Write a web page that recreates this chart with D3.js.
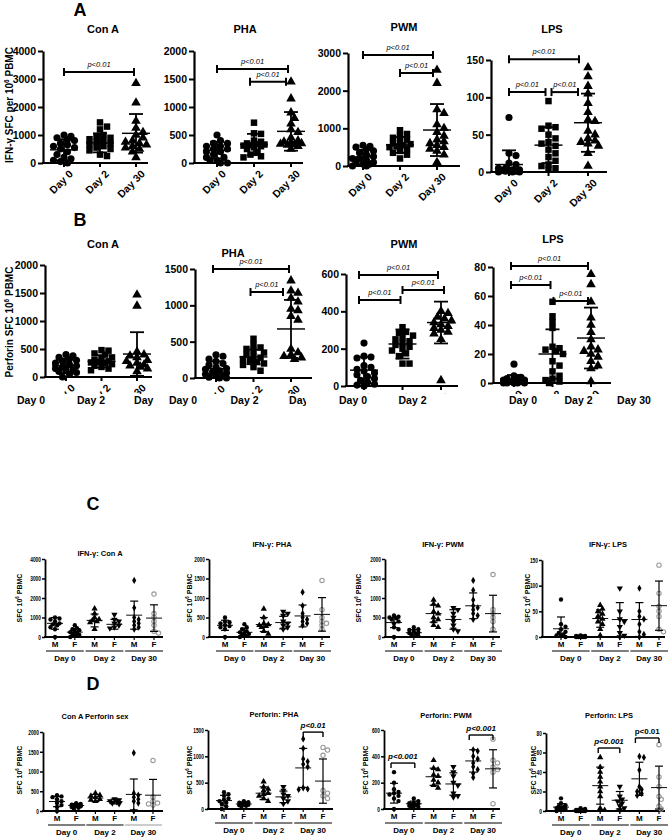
<!DOCTYPE html>
<html lang="en">
<head>
<meta charset="utf-8">
<title>SFC per stimulus</title>
<script src="https://cdn.jsdelivr.net/npm/d3@7"></script>
<style>
  body { margin: 0; background: #fff; }
  svg { display: block; }
  text { font-family: "Liberation Sans", Arial, sans-serif; fill: #000; }
  .narrow text { font-family: "Liberation Sans Narrow", "Liberation Sans", Arial, sans-serif; }
</style>
</head>
<body>
<script>
var w = 672, h = 838;

var days = ["Day 0", "Day 2", "Day 30"];
var sexes = ["M", "F", "M", "F", "M", "F"];

// ---- A: IFN-gamma SFC per 10^6 PBMC, by day
var ifnConA = [
  [1000, 950, 900, 850, 800, 700, 650, 600, 550, 500, 400, 300, 200, 150, 100, 50, 0],
  [1450, 1300, 1200, 1000, 950, 900, 850, 800, 750, 700, 650, 600, 550, 500, 450, 300, 250],
  [2850, 2150, 1500, 1250, 1100, 1000, 900, 800, 750, 700, 650, 600, 550, 500, 400, 200]
];
var ifnConAMean = [470, 720, 1060], ifnConASd = [380, 340, 690];

var ifnPHA = [
  [500, 400, 350, 350, 300, 300, 250, 250, 200, 200, 150, 100, 100, 50, 50, 0, 0],
  [720, 530, 520, 400, 380, 350, 340, 330, 320, 310, 300, 280, 250, 200, 150, 120, 100],
  [1450, 1150, 900, 800, 700, 600, 550, 450, 400, 380, 360, 350, 340, 330, 320, 300, 250]
];
var ifnPHAMean = [230, 330, 565], ifnPHASd = [150, 190, 345];

var ifnPWM = [
  [550, 520, 500, 450, 400, 350, 300, 250, 200, 200, 150, 100, 100, 50, 50, 0, 0],
  [950, 850, 800, 750, 700, 650, 600, 580, 550, 520, 500, 450, 400, 350, 300, 200],
  [2550, 2200, 1500, 1400, 1100, 1000, 900, 800, 700, 650, 600, 550, 500, 450, 400, 300, 100]
];
var ifnPWMMean = [240, 560, 955], ifnPWMSd = [190, 210, 690];

var ifnLPS = [
  [73, 25, 22, 12, 10, 5, 5, 3, 3, 2, 2, 1, 1, 0, 0, 0],
  [95, 62, 60, 58, 50, 45, 40, 38, 35, 30, 25, 20, 15, 10, 8, 5, 3],
  [140, 128, 115, 105, 92, 80, 70, 68, 55, 50, 45, 42, 40, 38, 35, 25, 8]
];
var ifnLPSMean = [10, 36, 66], ifnLPSSd = [19, 24, 39];

// ---- B: Perforin SFC per 10^6 PBMC, by day
var perConA = [
  [400, 380, 350, 320, 300, 280, 250, 220, 200, 180, 150, 130, 120, 100, 80, 50, 0],
  [480, 470, 420, 400, 350, 320, 300, 280, 270, 260, 250, 230, 200, 180, 150, 120],
  [1470, 1270, 450, 400, 380, 350, 300, 280, 250, 220, 200, 180, 150, 100]
];
var perConAMean = [200, 280, 410], perConASd = [130, 110, 390];

var perPHA = [
  [320, 300, 260, 230, 200, 180, 150, 130, 120, 100, 80, 70, 50, 40, 30, 10, 0, 0],
  [540, 460, 420, 400, 380, 350, 320, 300, 280, 260, 240, 220, 200, 180, 150, 100],
  [1340, 1200, 1170, 1100, 1050, 950, 930, 850, 800, 400, 350, 320, 300, 280, 260]
];
var perPHAMean = [130, 290, 675], perPHASd = [100, 100, 400];

var perPWM = [
  [230, 160, 155, 150, 110, 100, 90, 80, 70, 60, 50, 40, 30, 20, 10, 5, 0],
  [315, 290, 285, 270, 260, 250, 240, 230, 220, 210, 200, 190, 175, 160, 120, 120],
  [400, 390, 370, 360, 350, 340, 330, 320, 310, 300, 290, 280, 250, 30]
];
var perPWMMean = [85, 225, 340], perPWMSd = [70, 78, 112];

var perLPS = [
  [13, 5, 4, 3, 3, 2, 2, 2, 1, 1, 1, 0, 0, 0, 0, 0],
  [56, 46, 42, 38, 25, 24, 23, 22, 20, 15, 12, 8, 5, 3, 2, 1, 0],
  [75, 68, 56, 45, 40, 35, 30, 25, 23, 22, 20, 18, 15, 12, 10, 1]
];
var perLPSMean = [2.5, 20, 31], perLPSSd = [3, 17, 21];

// ---- C: IFN-gamma by sex (M, F per day)
var sexIfnConA = [
  [1000, 950, 900, 800, 700, 650, 600, 500, 400, 0],
  [600, 450, 400, 350, 300, 250, 200, 150, 100, 50, 0],
  [1450, 1200, 1000, 900, 850, 800, 750, 400],
  [1150, 900, 800, 700, 600, 500, 450],
  [2900, 1500, 1000, 900, 800, 700, 600, 500, 400],
  [2200, 1200, 1000, 800, 600, 300, 200]
];
var sexIfnConAMean = [700, 250, 850, 650, 1120, 970], sexIfnConASd = [300, 180, 330, 250, 720, 680];

var sexIfnPHA = [
  [500, 400, 380, 350, 300, 280, 250, 200, 0],
  [330, 250, 200, 150, 120, 100, 80, 50, 30, 0],
  [720, 500, 350, 320, 300, 280, 250, 150, 80],
  [650, 600, 550, 400, 350, 300, 250, 200],
  [1150, 800, 600, 500, 450, 400, 350, 300],
  [1450, 700, 500, 400, 350, 300, 200]
];
var sexIfnPHAMean = [300, 120, 320, 370, 540, 580], sexIfnPHASd = [130, 100, 180, 160, 280, 430];

var sexIfnPWM = [
  [550, 520, 500, 480, 450, 400, 350, 250, 200, 0],
  [250, 200, 180, 150, 120, 100, 80, 50, 30],
  [950, 850, 800, 650, 600, 500, 450, 400, 300, 250],
  [750, 700, 600, 500, 400, 300, 200, 150],
  [1450, 1200, 950, 800, 750, 700, 600, 550, 450],
  [1600, 700, 600, 500, 400, 200]
];
var sexIfnPWMMean = [370, 110, 600, 450, 800, 600], sexIfnPWMSd = [130, 80, 220, 250, 330, 470];

var sexIfnLPS = [
  [73, 25, 20, 15, 10, 8, 5, 3, 2, 0],
  [3, 2, 2, 1, 1, 0, 0, 0, 0, 0],
  [62, 55, 50, 45, 40, 35, 30, 25, 15, 3],
  [95, 50, 35, 30, 20, 8, 3, 0],
  [95, 50, 40, 35, 25, 10, 5, 0],
  [140, 85, 60, 50, 40, 15, 10]
];
var sexIfnLPSMean = [16, 1, 36, 34, 34, 61], sexIfnLPSSd = [23, 1, 17, 33, 33, 48];

// ---- D: Perforin by sex
var sexPerConA = [
  [400, 370, 350, 300, 250, 200, 150, 100, 0],
  [200, 180, 160, 150, 140, 130, 120, 100, 80, 50],
  [450, 400, 380, 350, 300, 280, 250],
  [300, 280, 250, 230, 200, 180],
  [1470, 450, 400, 350, 300, 250, 200, 0],
  [1280, 350, 250, 200, 180, 150]
];
var sexPerConAMean = [240, 140, 330, 240, 420, 400], sexPerConASd = [130, 50, 90, 60, 390, 400];

var sexPerPHA = [
  [320, 280, 250, 200, 180, 150, 120, 100, 50, 0],
  [150, 130, 120, 110, 100, 90, 80, 70, 60, 50],
  [520, 420, 380, 350, 300, 280, 250, 200, 150],
  [420, 350, 280, 250, 200, 150, 100],
  [1330, 1150, 950, 900, 850, 800, 400, 380, 370],
  [1170, 1120, 1020, 350, 300, 250, 200]
];
var sexPerPHAMean = [160, 95, 300, 230, 780, 530], sexPerPHASd = [100, 35, 120, 110, 370, 420];

var sexPerPWM = [
  [280, 200, 150, 130, 120, 110, 100, 80, 60, 0],
  [80, 60, 50, 45, 40, 35, 30, 25, 20, 15, 10],
  [370, 310, 300, 260, 250, 220, 200, 180, 160],
  [320, 280, 250, 200, 180, 120, 100, 90],
  [450, 440, 400, 380, 350, 320, 300, 270, 240],
  [530, 370, 350, 320, 300, 280, 40]
];
var sexPerPWMMean = [120, 40, 245, 190, 365, 305], sexPerPWMSd = [75, 20, 65, 85, 85, 145];

var sexPerLPS = [
  [13, 8, 6, 5, 4, 3, 3, 2, 2, 1, 0],
  [3, 2, 1, 1, 1, 0, 0, 0, 0, 0],
  [55, 45, 40, 35, 30, 25, 20, 15, 3, 1],
  [25, 15, 12, 10, 8, 5, 3, 1],
  [56, 55, 42, 25, 22, 20, 18, 16],
  [68, 35, 25, 15, 12, 5, 2]
];
var sexPerLPSMean = [4, 0.8, 26, 11, 33, 24], sexPerLPSSd = [3.5, 1, 19, 9, 17, 22];

var svg = d3.select("body").append("svg").attr("width", w).attr("height", h);

// simple deterministic beeswarm: spread close values sideways, capped at maxOff
function swarm(vals, y, cx, d, maxOff) {
  var placed = [];
  vals.slice().sort(function(a, b) { return b - a; }).forEach(function(v) {
    var py = y(v), best = 0, bestGap = -1;
    for (var k = 0; k < 60; k++) {
      var off = (k % 2 ? 1 : -1) * Math.ceil(k / 2) * d * 0.5;
      if (Math.abs(off) > maxOff) break;
      var gap = d3.min(placed, function(p) { var dx = p.x - off, dy = p.y - py; return Math.sqrt(dx * dx + dy * dy); });
      if (gap === undefined) gap = 99;
      if (gap >= d * 0.8) { best = off; break; }
      if (gap > bestGap) { bestGap = gap; best = off; }
    }
    placed.push({ x: best, y: py });
  });
  return placed.map(function(p) { return { x: cx + p.x, y: p.y }; });
}

function panel(p) {
  var g = svg.append("g").attr("class", p.small ? "narrow" : null);
  var n = p.values.length;
  var y = d3.scaleLinear().domain([0, p.max]).range([p.y0, p.yTop]);
  var x = d3.scalePoint().domain(d3.range(n)).range(p.cats);

  var ya = g.append("g").attr("transform", "translate(" + p.axisX + ",0)")
    .call(d3.axisLeft(y).tickValues(d3.range(0, p.max + 1, p.step)).tickFormat(d3.format("d"))
      .tickSize(p.small ? 3 : 5).tickSizeOuter(0).tickPadding(p.small ? 1 : 2));
  ya.select(".domain").attr("stroke-width", p.small ? 1.8 : 2.2);
  ya.selectAll(".tick line").attr("stroke-width", p.small ? 1.5 : 2);
  ya.selectAll(".tick text").attr("font-size", p.small ? 7 : 10.5).attr("font-weight", "bold")
    .style("font-family", '"Liberation Sans", Arial, sans-serif');
  if (p.small) {
    // condensed tick labels like the original
    ya.selectAll(".tick text")
      .attr("textLength", function(d) { return String(d).length * 2.7; })
      .attr("lengthAdjust", "spacingAndGlyphs");
  }

  // x axis baseline + ticks
  g.append("line").attr("x1", p.axisX - 1).attr("x2", p.xEnd).attr("y1", p.y0).attr("y2", p.y0)
    .attr("stroke", "#000").attr("stroke-width", p.small ? 1.8 : 2.2);
  g.selectAll(".xt").data(d3.range(n)).enter().append("line")
    .attr("x1", function(i) { return x(i); }).attr("x2", function(i) { return x(i); })
    .attr("y1", p.y0).attr("y2", p.y0 + (p.small ? 3 : 4))
    .attr("stroke", "#000").attr("stroke-width", p.small ? 1.2 : 2);

  // points
  p.values.forEach(function(vals, i) {
    var sh = p.shapes[i];
    var pts = swarm(vals, y, x(i), p.d, p.spread);
    var sym = d3.symbol().type(sh.type).size(sh.size);
    g.selectAll(".pt" + i).data(pts).enter().append("path")
      .attr("d", sym)
      .attr("transform", function(q) { return "translate(" + q.x + "," + q.y + ")" + (sh.flip ? " rotate(180)" : ""); })
      .attr("fill", sh.open ? "none" : "#000")
      .attr("stroke", sh.open ? "#9a9a9a" : "none")
      .attr("stroke-width", 1.1);
  });

  // mean +- SD
  var mw = p.small ? 8 : 14, cw = p.small ? 4 : 7, sw = p.small ? 1.2 : 1.8;
  p.mean.forEach(function(m, i) {
    var cx = x(i), lo = Math.max(0, m - p.sd[i]), hi = m + p.sd[i];
    var eb = g.append("g").attr("stroke", "#000").attr("stroke-width", sw);
    eb.append("line").attr("x1", cx).attr("x2", cx).attr("y1", y(lo)).attr("y2", y(hi));
    eb.append("line").attr("x1", cx - mw).attr("x2", cx + mw).attr("y1", y(m)).attr("y2", y(m)).attr("stroke-width", sw * 0.8);
    eb.append("line").attr("x1", cx - cw).attr("x2", cx + cw).attr("y1", y(hi)).attr("y2", y(hi));
    if (lo > 0) eb.append("line").attr("x1", cx - cw).attr("x2", cx + cw).attr("y1", y(lo)).attr("y2", y(lo));
  });

  // significance brackets
  (p.brackets || []).forEach(function(b) {
    var x1 = x(b.from) + (b.ins1 || 0), x2 = x(b.to) - (b.ins2 || 0), by = y(b.at);
    var bg = g.append("g").attr("stroke", "#000").attr("stroke-width", p.small ? 1.4 : 2);
    bg.append("line").attr("x1", x1).attr("x2", x2).attr("y1", by).attr("y2", by);
    var t = p.small ? [by, by + 5] : [by - 4, by + 4];
    [x1, x2].forEach(function(xx) {
      bg.append("line").attr("x1", xx).attr("x2", xx).attr("y1", t[0]).attr("y2", t[1]);
    });
    g.append("text").attr("x", (x1 + x2) / 2).attr("y", by - (p.small ? 4 : 5))
      .attr("text-anchor", "middle").attr("font-size", p.small ? 8 : 7.5)
      .attr("font-style", b.upright ? "normal" : "italic").attr("font-weight", p.small ? "bold" : "normal")
      .text(b.label);
  });

  // title
  g.append("text").attr("x", p.title[1]).attr("y", p.title[2]).attr("text-anchor", "middle")
    .attr("font-size", p.small ? 7.5 : 11).attr("font-weight", "bold").text(p.title[0]);

  // y label with superscript exponent
  if (p.ylab) {
    var fs = p.small ? 7 : 10;
    var yl = g.append("text").attr("transform", "translate(" + p.ylab[1] + "," + p.ylab[2] + ") rotate(-90)")
      .attr("text-anchor", "middle").attr("font-size", fs).attr("font-weight", "bold");
    yl.append("tspan").text(p.ylab[0][0]);
    yl.append("tspan").attr("dy", -fs * 0.4).attr("font-size", fs * 0.65).text(p.ylab[0][1]);
    yl.append("tspan").attr("dy", fs * 0.4).text(p.ylab[0][2]);
  }

  if (!p.small) {
    // rotated day labels
    g.selectAll(".xl").data(days).enter().append("text")
      .attr("transform", function(d, i) { return "translate(" + (x(i) + 7) + "," + (p.y0 + 9) + ") rotate(-45)"; })
      .attr("text-anchor", "end").attr("dy", "0.35em")
      .attr("font-size", 10.5).attr("font-weight", "bold").text(function(d) { return d; });
    if (p.flat) {
      // pasted horizontal labels over the rotated ones
      var fx = d3.scalePoint().domain(days).range(p.flat);
      g.append("rect").attr("x", p.axisX - 40).attr("y", flatY - 10).attr("width", p.xEnd - p.axisX + 52)
        .attr("height", 30).attr("fill", "#fff");
      g.selectAll(".fl").data(days).enter().append("text")
        .attr("x", function(d) { return fx(d); }).attr("y", flatY)
        .attr("text-anchor", "middle").attr("font-size", 10.5).attr("font-weight", "bold")
        .text(function(d) { return d; });
    }
  } else {
    g.selectAll(".sx").data(sexes).enter().append("text")
      .attr("x", function(d, i) { return x(i); }).attr("y", p.y0 + 10)
      .attr("text-anchor", "middle").attr("font-size", 8).attr("font-weight", "bold")
      .text(function(d) { return d; });
    days.forEach(function(d, k) {
      var a = x(2 * k) - 9, b = x(2 * k + 1) + 9;
      g.append("line").attr("x1", a).attr("x2", b).attr("y1", p.y0 + 14).attr("y2", p.y0 + 14)
        .attr("stroke", p.grayLine === k ? "#999" : "#000").attr("stroke-width", 1.2);
      g.append("text").attr("x", (a + b) / 2).attr("y", p.y0 + 24).attr("text-anchor", "middle")
        .attr("font-size", 8).attr("font-weight", "bold").text(d);
    });
  }
}

var flatY = 404;
var dayShapes = [
  { type: d3.symbolCircle, size: 40 },
  { type: d3.symbolSquare, size: 42 },
  { type: d3.symbolTriangle, size: 40 }
];
var sexShapes = [
  { type: d3.symbolCircle, size: 15 },
  { type: d3.symbolCircle, size: 15 },
  { type: d3.symbolTriangle, size: 17 },
  { type: d3.symbolTriangle, size: 17, flip: true },
  { type: d3.symbolDiamond, size: 15 },
  { type: d3.symbolCircle, size: 15, open: true }
];
var ifnLab = ["IFN-γ SFC per 10", "6", " PBMC"];
var perLab = ["Perforin SFC 10", "6", " PBMC"];
var sfcLab = ["SFC 10", "6", " PBMC"];

// ---- Row A
panel({ values: ifnConA, mean: ifnConAMean, sd: ifnConASd, shapes: dayShapes, d: 7, spread: 12,
  axisX: 43, xEnd: 148, cats: [64, 136], y0: 163, yTop: 51, max: 4000, step: 1000,
  title: ["Con A", 103, 33], ylab: [ifnLab, 13, 105],
  brackets: [{ from: 0, to: 2, at: 3250, label: "p<0.01", ins2: 2 }] });
panel({ values: ifnPHA, mean: ifnPHAMean, sd: ifnPHASd, shapes: dayShapes, d: 7, spread: 12,
  axisX: 194, xEnd: 303, cats: [217, 291], y0: 163, yTop: 51, max: 2000, step: 500,
  title: ["PHA", 245, 33],
  brackets: [{ from: 0, to: 2, at: 1680, label: "p<0.01", ins2: 3 },
             { from: 1, to: 2, at: 1450, label: "p<0.01", ins1: -4, ins2: 5 }] });
panel({ values: ifnPWM, mean: ifnPWMMean, sd: ifnPWMSd, shapes: dayShapes, d: 7, spread: 12,
  axisX: 348, xEnd: 460, cats: [363, 437], y0: 166, yTop: 53, max: 3000, step: 1000,
  title: ["PWM", 404, 31],
  brackets: [{ from: 0, to: 2, at: 2950, label: "p<0.01", ins2: 4 },
             { from: 1, to: 2, at: 2470, label: "p<0.01", ins2: 4 }] });
panel({ values: ifnLPS, mean: ifnLPSMean, sd: ifnLPSSd, shapes: dayShapes, d: 7, spread: 12,
  axisX: 491, xEnd: 607, cats: [509, 588], y0: 172, yTop: 60, max: 150, step: 50,
  title: ["LPS", 552, 33],
  brackets: [{ from: 0, to: 2, at: 151, label: "p<0.01", ins2: 9 },
             { from: 0, to: 1, at: 107, label: "p<0.01", ins2: 3 },
             { from: 1, to: 2, at: 107, label: "p<0.01", ins1: 3, ins2: 10 }] });

// ---- Row B
panel({ values: perConA, mean: perConAMean, sd: perConASd, shapes: dayShapes, d: 7, spread: 12,
  axisX: 45, xEnd: 152, cats: [66, 137], y0: 377, yTop: 265, max: 2000, step: 500,
  title: ["Con A", 103, 248], ylab: [perLab, 13, 322], flat: [31, 151] });
panel({ values: perPHA, mean: perPHAMean, sd: perPHASd, shapes: dayShapes, d: 7, spread: 12,
  axisX: 195, xEnd: 312, cats: [216, 291], y0: 378, yTop: 269, max: 1500, step: 500,
  title: ["PHA", 233, 257], flat: [183, 306],
  brackets: [{ from: 0, to: 2, at: 1500, label: "p<0.01", ins1: -3, ins2: 2 },
             { from: 1, to: 2, at: 1183, label: "p<0.01", ins1: -3, ins2: 8 }] });
panel({ values: perPWM, mean: perPWMMean, sd: perPWMSd, shapes: dayShapes, d: 7, spread: 12,
  axisX: 346, xEnd: 458, cats: [364, 441], y0: 386, yTop: 274, max: 600, step: 200,
  title: ["PWM", 404, 248], flat: [353, 472],
  brackets: [{ from: 0, to: 2, at: 595, label: "p<0.01", ins1: -5, ins2: 3 },
             { from: 0, to: 1, at: 461, label: "p<0.01", ins1: -5, ins2: 2 },
             { from: 1, to: 2, at: 514, label: "p<0.01", ins2: -3 }] });
panel({ values: perLPS, mean: perLPSMean, sd: perLPSSd, shapes: dayShapes, d: 7, spread: 12,
  axisX: 493, xEnd: 611, cats: [514, 591], y0: 383, yTop: 267, max: 80, step: 20,
  title: ["LPS", 553, 243], flat: [523, 634],
  brackets: [{ from: 0, to: 2, at: 80.7, label: "p<0.01", ins1: -3, ins2: 3 },
             { from: 0, to: 1, at: 67.6, label: "p<0.01", ins1: -3, ins2: 2 },
             { from: 1, to: 2, at: 56.6, label: "p<0.01", ins1: 1, ins2: 3 }] });

// ---- Row C
panel({ small: true, values: sexIfnConA, mean: sexIfnConAMean, sd: sexIfnConASd, shapes: sexShapes, d: 4.5, spread: 6,
  axisX: 45, xEnd: 163, cats: [55, 154], y0: 637, yTop: 559, max: 4000, step: 1000,
  title: ["IFN-γ: Con A", 100, 556], ylab: [sfcLab, 22, 598] });
panel({ small: true, values: sexIfnPHA, mean: sexIfnPHAMean, sd: sexIfnPHASd, shapes: sexShapes, d: 4.5, spread: 6,
  axisX: 209, xEnd: 330, cats: [225, 322], y0: 637, yTop: 559, max: 2000, step: 500,
  title: ["IFN-γ: PHA", 272, 547], ylab: [sfcLab, 192, 598] });
panel({ small: true, values: sexIfnPWM, mean: sexIfnPWMMean, sd: sexIfnPWMSd, shapes: sexShapes, d: 4.5, spread: 6,
  axisX: 385, xEnd: 500, cats: [394, 493], y0: 637, yTop: 559, max: 2000, step: 500,
  title: ["IFN-γ: PWM", 443, 547], ylab: [sfcLab, 361, 598] });
panel({ small: true, values: sexIfnLPS, mean: sexIfnLPSMean, sd: sexIfnLPSSd, shapes: sexShapes, d: 4.5, spread: 6,
  axisX: 542, xEnd: 665, cats: [561, 659], y0: 637, yTop: 560, max: 150, step: 50,
  title: ["IFN-γ: LPS", 608, 547], ylab: [sfcLab, 530, 598] });

// ---- Row D
panel({ small: true, values: sexPerConA, mean: sexPerConAMean, sd: sexPerConASd, shapes: sexShapes, d: 4.5, spread: 6,
  axisX: 43, xEnd: 163, cats: [57, 153], y0: 811, yTop: 732, max: 2000, step: 500, grayLine: 2,
  title: ["Con A Perforin sex", 95, 719], ylab: [sfcLab, 22, 770] });
panel({ small: true, values: sexPerPHA, mean: sexPerPHAMean, sd: sexPerPHASd, shapes: sexShapes, d: 4.5, spread: 6,
  axisX: 208, xEnd: 333, cats: [224, 323], y0: 809, yTop: 730, max: 1500, step: 500,
  title: ["Perforin: PHA", 274, 717], ylab: [sfcLab, 192, 770],
  brackets: [{ from: 4, to: 5, at: 1460, label: "p<0.01" }] });
panel({ small: true, values: sexPerPWM, mean: sexPerPWMMean, sd: sexPerPWMSd, shapes: sexShapes, d: 4.5, spread: 6,
  axisX: 384, xEnd: 500, cats: [394, 493], y0: 809, yTop: 730, max: 600, step: 200,
  title: ["Perforin: PWM", 446, 718], ylab: [sfcLab, 368, 770],
  brackets: [{ from: 0, to: 1, at: 349, label: "p<0.001", ins1: -3, ins2: -1 },
             { from: 4, to: 5, at: 562, label: "p<0.001", ins1: -4 }] });
panel({ small: true, values: sexPerLPS, mean: sexPerLPSMean, sd: sexPerLPSSd, shapes: sexShapes, d: 4.5, spread: 6,
  axisX: 546, xEnd: 665, cats: [561, 659], y0: 811, yTop: 733, max: 80, step: 20,
  title: ["Perforin: LPS", 609, 718], ylab: [sfcLab, 536, 770],
  brackets: [{ from: 2, to: 3, at: 64.6, label: "p<0.001", ins1: -2 },
             { from: 4, to: 5, at: 74.9, label: "p<0.01", upright: true, ins1: -4 }] });

// panel letters
var letters = ["A", "B", "C", "D"], letterY = [16, 226, 510, 690], letterX = [80, 80, 93, 93];
svg.selectAll(".letter").data(letters).enter().append("text")
  .attr("x", function(d, i) { return letterX[i]; }).attr("y", function(d, i) { return letterY[i]; })
  .attr("text-anchor", "middle").attr("font-size", 18).attr("font-weight", "bold")
  .text(function(d) { return d; });
</script>
</body>
</html>
